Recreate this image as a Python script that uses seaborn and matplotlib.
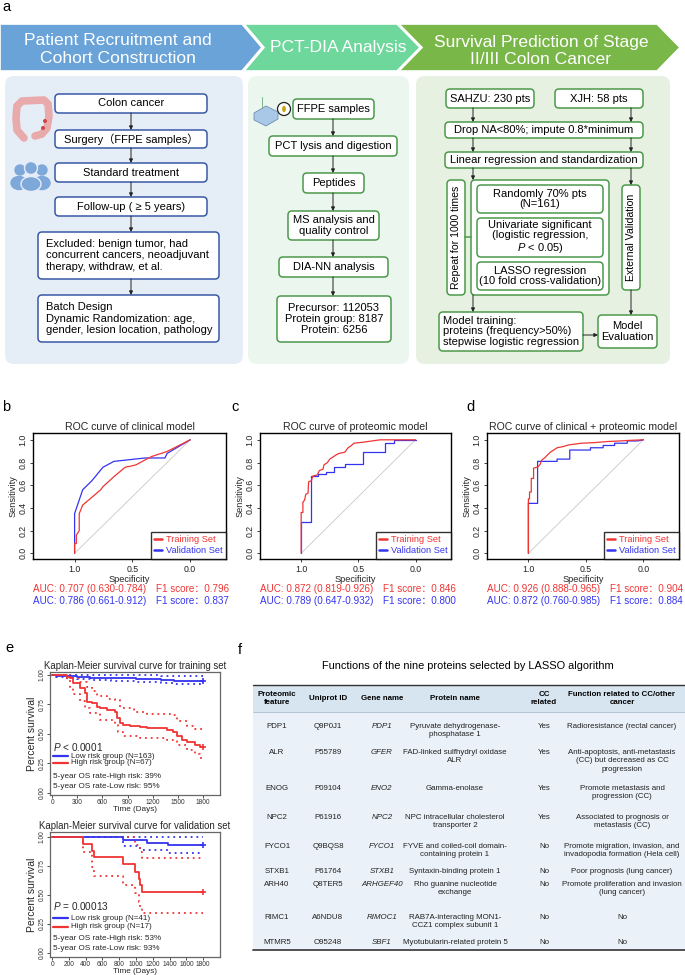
import numpy as np
import pandas as pd
import matplotlib
matplotlib.use("Agg")
import matplotlib.pyplot as plt
import seaborn as sns
from matplotlib.patches import FancyBboxPatch, Polygon, Circle, Ellipse, Rectangle
from matplotlib.lines import Line2D

# ---------------- data ----------------
banner_titles = ["Patient Recruitment and\nCohort Construction", "PCT-DIA Analysis",
                 "Survival Prediction of Stage\nII/III Colon Cancer"]
left_steps = ["Colon cancer", "Surgery\uff08FFPE samples\uff09", "Standard treatment", "Follow-up ( \u2265 5 years)",
              "Excluded: benign tumor, had\nconcurrent cancers, neoadjuvant\ntherapy, withdraw, et al.",
              "Batch Design\nDynamic Randomization: age,\ngender, lesion location, pathology"]
mid_steps = ["FFPE samples", "PCT lysis and digestion", "Peptides", "MS analysis and\nquality control",
             "DIA-NN analysis", "Precursor: 112053\nProtein group: 8187\nProtein: 6256"]
right_steps = ["SAHZU: 230 pts", "XJH: 58 pts", "Drop NA<80%; impute 0.8*minimum",
               "Linear regression and standardization", "Repeat for 1000 times",
               "Randomly 70% pts\n(N=161)", "Univariate significant\n(logistic regression,\n$P$ < 0.05)",
               "LASSO regression\n(10 fold cross-validation)", "External Validation",
               "Model training:\nproteins (frequency>50%)\nstepwise logistic regression", "Model\nEvaluation"]

roc_titles = ["ROC curve of clinical model", "ROC curve of proteomic model",
              "ROC curve of clinical + proteomic model"]
roc_b_train_spec = [1.0, 1.0, 0.985, 0.985, 0.96, 0.96, 0.93, 0.774, 0.755, 0.66, 0.563, 0.506, 0.468, 0.39, 0.333, 0.2, 0.0]
roc_b_train_sens = [0.0, 0.086, 0.086, 0.16, 0.2, 0.35, 0.425, 0.56, 0.587, 0.675, 0.758, 0.77, 0.78, 0.823, 0.853, 0.897, 1.0]
roc_b_val_spec = [1.0, 1.0, 0.93, 0.85, 0.755, 0.66, 0.39, 0.218, 0.2, 0.0]
roc_b_val_sens = [0.0, 0.35, 0.56, 0.64, 0.758, 0.81, 0.84, 0.84, 0.88, 1.0]
roc_c_train_spec = [1.0, 1.0, 0.985, 0.985, 0.97, 0.96, 0.94, 0.935, 0.91, 0.90, 0.86, 0.84, 0.81, 0.80, 0.77,
                    0.75, 0.72, 0.69, 0.67, 0.62, 0.59, 0.56, 0.54, 0.45, 0.38, 0.31, 0.0]
roc_c_train_sens = [0.0, 0.36, 0.36, 0.45, 0.47, 0.52, 0.53, 0.63, 0.64, 0.68, 0.69, 0.73, 0.74, 0.78, 0.80,
                    0.83, 0.85, 0.87, 0.88, 0.89, 0.93, 0.95, 0.97, 0.98, 0.99, 1.0, 1.0]
roc_c_val_spec = [1.0, 1.0, 0.91, 0.91, 0.85, 0.85, 0.78, 0.78, 0.71, 0.71, 0.62, 0.62, 0.46, 0.46, 0.27, 0.27,
                  0.19, 0.19, 0.0]
roc_c_val_sens = [0.0, 0.28, 0.28, 0.68, 0.68, 0.70, 0.70, 0.72, 0.72, 0.76, 0.76, 0.79, 0.79, 0.89, 0.89, 0.97,
                  0.97, 1.0, 1.0]
roc_d_train_spec = [1.0, 1.0, 0.99, 0.99, 0.975, 0.975, 0.955, 0.955, 0.92, 0.90, 0.885, 0.86, 0.84, 0.81, 0.78,
                    0.75, 0.70, 0.65, 0.54, 0.43, 0.31, 0.20, 0.12, 0.0]
roc_d_train_sens = [0.0, 0.48, 0.48, 0.54, 0.54, 0.66, 0.66, 0.75, 0.76, 0.78, 0.82, 0.84, 0.86, 0.89, 0.91,
                    0.93, 0.94, 0.955, 0.97, 0.975, 0.985, 0.99, 0.995, 1.0]
roc_d_val_spec = [1.0, 1.0, 0.92, 0.92, 0.75, 0.75, 0.64, 0.64, 0.46, 0.46, 0.35, 0.35, 0.25, 0.25, 0.14, 0.14,
                  0.05, 0.0]
roc_d_val_sens = [0.0, 0.44, 0.44, 0.81, 0.81, 0.83, 0.83, 0.91, 0.91, 0.93, 0.93, 0.95, 0.95, 0.97, 0.97, 0.99,
                  0.99, 1.0]
auc_train = ["AUC: 0.707 (0.630-0.784)", "AUC: 0.872 (0.819-0.926)", "AUC: 0.926 (0.888-0.965)"]
auc_val = ["AUC: 0.786 (0.661-0.912)", "AUC: 0.789 (0.647-0.932)", "AUC: 0.872 (0.760-0.985)"]
f1_train = ["0.796", "0.846", "0.904"]
f1_val = ["0.837", "0.800", "0.884"]

km_titles = ["Kaplan-Meier survival curve for training set", "Kaplan-Meier survival curve for validation set"]
km_tr_low_t = [0, 50, 150, 300, 450, 700, 1000, 1300, 1450, 1800]
km_tr_low_s = [1.0, 0.994, 0.988, 0.982, 0.976, 0.97, 0.963, 0.956, 0.95, 0.95]
km_tr_low_up = [1.0, 1.0, 1.0, 1.0, 1.0, 1.0, 0.997, 0.993, 0.99, 0.99]
km_tr_low_lo = [1.0, 0.982, 0.972, 0.963, 0.955, 0.948, 0.94, 0.93, 0.922, 0.922]
km_tr_high_t = [0, 175, 215, 254, 334, 394, 413, 473, 533, 572, 652, 751, 779, 811, 850, 930, 1049, 1129,
                1367, 1446, 1486, 1546, 1605, 1705, 1764, 1800]
km_tr_high_s = [1.0, 0.985, 0.97, 0.93, 0.886, 0.845, 0.774, 0.76, 0.732, 0.718, 0.70, 0.69, 0.632, 0.59, 0.576,
                0.568, 0.557, 0.548, 0.534, 0.52, 0.48, 0.45, 0.435, 0.407, 0.39, 0.39]
km_tr_high_up_t = [0, 175, 215, 254, 334, 413, 473, 533, 652, 751, 811, 970, 1129, 1407, 1486, 1605, 1705, 1800]
km_tr_high_up_s = [1.0, 1.0, 0.99, 0.97, 0.94, 0.90, 0.86, 0.82, 0.80, 0.79, 0.72, 0.69, 0.67, 0.66, 0.61, 0.57,
                   0.54, 0.53]
km_tr_high_lo_t = [0, 175, 215, 254, 334, 394, 453, 572, 751, 790, 850, 1049, 1367, 1486, 1605, 1705, 1764, 1800]
km_tr_high_lo_s = [1.0, 0.96, 0.90, 0.84, 0.78, 0.72, 0.675, 0.62, 0.576, 0.52, 0.48, 0.465, 0.45, 0.41, 0.364,
                   0.33, 0.30, 0.29]
km_va_low_t = [0, 843, 1128, 1384, 1800]
km_va_low_s = [1.0, 0.974, 0.95, 0.93, 0.93]
km_va_low_up = [1.0, 1.0, 1.0, 1.0, 1.0]
km_va_low_lo_t = [0, 843, 1048, 1384, 1800]
km_va_low_lo_s = [1.0, 0.92, 0.89, 0.86, 0.86]
km_va_high_t = [0, 370, 475, 495, 850, 990, 1030, 1050, 1070, 1800]
km_va_high_s = [1.0, 0.941, 0.882, 0.824, 0.765, 0.70, 0.64, 0.59, 0.53, 0.53]
km_va_high_up_t = [0, 990, 1050, 1070, 1800]
km_va_high_up_s = [1.0, 0.93, 0.87, 0.82, 0.82]
km_va_high_lo_t = [0, 370, 475, 495, 850, 990, 1030, 1050, 1070, 1800]
km_va_high_lo_s = [1.0, 0.87, 0.74, 0.66, 0.585, 0.515, 0.44, 0.39, 0.345, 0.345]
km_p = ["$P$ < 0.0001", "$P$ = 0.00013"]
km_low_lab = ["Low risk group (N=163)", "Low risk group (N=41)"]
km_high_lab = ["High risk group (N=67)", "High risk group (N=17)"]
km_os_high = ["5-year OS rate-High risk: 39%", "5-year OS rate-High risk: 53%"]
km_os_low = ["5-year OS rate-Low risk: 95%", "5-year OS rate-Low risk: 93%"]
km_xticks = [[0, 300, 600, 900, 1200, 1500, 1800], [0, 200, 400, 600, 800, 1000, 1200, 1400, 1600, 1800]]

table_title = "Functions of the nine proteins selected by LASSO algorithm"
headers = ["Proteomic\nfeature", "Uniprot ID", "Gene name", "Protein name", "CC\nrelated",
           "Function related to CC/other\ncancer"]
features = ["PDP1", "ALR", "ENOG", "NPC2", "FYCO1", "STXB1", "ARH40", "RIMC1", "MTMR5"]
uniprot = ["Q9P0J1", "P55789", "P09104", "P61916", "Q9BQS8", "P61764", "Q8TER5", "A6NDU8", "O95248"]
genes = ["PDP1", "GFER", "ENO2", "NPC2", "FYCO1", "STXB1", "ARHGEF40", "RIMOC1", "SBF1"]
protein_names = ["Pyruvate dehydrogenase-\nphosphatase 1", "FAD-linked sulfhydryl oxidase\nALR", "Gamma-enolase",
                 "NPC intracellular cholesterol\ntransporter 2", "FYVE and coiled-coil domain-\ncontaining protein 1",
                 "Syntaxin-binding protein 1", "Rho guanine nucleotide\nexchange",
                 "RAB7A-interacting MON1-\nCCZ1 complex subunit 1", "Myotubularin-related protein 5"]
cc_related = ["Yes", "Yes", "Yes", "Yes", "No", "No", "No", "No", "No"]
functions = ["Radioresistance (rectal cancer)", "Anti-apoptosis, anti-metastasis\n(CC) but decreased as CC\nprogression",
             "Promote metastasis and\nprogression (CC)", "Associated to prognosis or\nmetastasis (CC)",
             "Promote migration, invasion, and\ninvadopodia formation (Hela cell)", "Poor prognosis (lung cancer)",
             "Promote proliferation and invasion\n(lung cancer)", "No", "No"]

# ---------------- style ----------------
sns.set_theme(style="white")
FAM = ["Liberation Sans", "Noto Sans CJK SC", "DejaVu Sans"]
plt.rcParams["font.family"] = FAM
plt.rcParams["mathtext.fontset"] = "custom"
plt.rcParams["mathtext.it"] = "Liberation Sans:italic"
plt.rcParams["mathtext.rm"] = "Liberation Sans"
RED = "#F03434"
BLUE = "#3434F0"

W, H = 685, 975
fig = plt.figure(figsize=(W / 100, H / 100), dpi=100)
fig.patch.set_facecolor("white")


def rect(x, y, w, h):
    return [x / W, 1 - (y + h) / H, w / W, h / H]


ov = fig.add_axes([0, 0, 1, 1])
ov.set_xlim(0, W)
ov.set_ylim(H, 0)
ov.axis("off")


def rbox(x0, y0, x1, y1, ec, fc="white", lw=1.0, r=3.0, z=2):
    ov.add_patch(FancyBboxPatch((x0, y0), x1 - x0, y1 - y0, boxstyle=f"round,pad=0,rounding_size={r}",
                                ec=ec, fc=fc, lw=lw, zorder=z))


def txt(x, y, s, size, color="black", ha="center", va="center", **kw):
    ov.text(x, y, s, fontsize=size, color=color, ha=ha, va=va, family=FAM, zorder=5, **kw)


def arrow(x0, y0, x1, y1):
    ov.annotate("", xy=(x1, y1), xytext=(x0, y0),
                arrowprops=dict(arrowstyle="-|>", lw=0.7, color="#222222", mutation_scale=5.5,
                                shrinkA=0, shrinkB=0), zorder=4)


# panel letters
for lab, (x, y) in zip("abcdef", [(2, 7), (2, 407), (231, 407), (466, 407), (5, 648), (238, 650)]):
    txt(x, y, lab, 10.5, ha="left")

# ---------------- panel a ----------------
c_blue, c_lg, c_dg = "#69A3D8", "#6DD79C", "#79B749"
ov.add_patch(Polygon([(0, 24), (242, 24), (262, 47.5), (242, 71), (0, 71)], closed=True, fc=c_blue, ec="white", lw=1.2, zorder=3))
ov.add_patch(Polygon([(244, 24), (397, 24), (420, 47.5), (397, 71), (244, 71), (264, 47.5)], closed=True, fc=c_lg, ec="white", lw=1.2, zorder=3))
ov.add_patch(Polygon([(399, 24), (657, 24), (680, 47.5), (657, 71), (399, 71), (422, 47.5)], closed=True, fc=c_dg, ec="white", lw=1.2, zorder=3))
for (x, y), s in zip([(118, 49.5), (338, 47.5), (541, 51)], banner_titles):
    txt(x, y, s, 12.6, color="white", linespacing=1.22)

rbox(5, 76, 243, 364, ec="none", fc="#E5EEF7", r=9, z=1)
rbox(248, 76, 409, 364, ec="none", fc="#EAF6EE", r=9, z=1)
rbox(416, 76, 670, 364, ec="none", fc="#E7F1E1", r=9, z=1)

eb, eg = "#3858A6", "#4C994A"
fs_a = 8.0
Lb = [(55, 94, 207, 113), (55, 130, 207, 148), (55, 163, 207, 182), (55, 197, 207, 216),
      (38, 232, 219, 279), (38, 295, 219, 342)]
for i, (b, s) in enumerate(zip(Lb, left_steps)):
    rbox(*b, ec=eb, lw=1.1, r=4)
    if i < 4:
        txt((b[0] + b[2]) / 2, (b[1] + b[3]) / 2, s, fs_a)
    else:
        txt(b[0] + 8, (b[1] + b[3]) / 2, s, fs_a, ha="left", linespacing=1.2)
for i in range(len(Lb) - 1):
    arrow(131, Lb[i][3], 131, Lb[i + 1][1])

Mb = [(293, 99, 374, 119), (269, 136, 397, 156), (303, 173, 364, 193), (288, 211, 379, 240),
      (279, 257, 388, 277), (277, 296, 391, 342)]
for b, s in zip(Mb, mid_steps):
    rbox(*b, ec=eg, lw=1.1, r=4)
    txt((b[0] + b[2]) / 2, (b[1] + b[3]) / 2, s, fs_a, linespacing=1.12)
for i in range(len(Mb) - 1):
    arrow(333, Mb[i][3], 333, Mb[i + 1][1])

Rb = [(446, 89, 534, 108), (555, 89, 643, 108), (445, 122, 643, 138), (445, 152, 643, 168),
      (447, 180, 465, 295), (477, 185, 603, 213), (477, 218, 603, 257), (477, 262, 603, 290),
      (622, 185, 640, 290), (439, 312, 583, 351), (598, 315, 657, 348)]
rbox(471, 180, 609, 295, ec=eg, lw=1.1, r=4)
for i, (b, s) in enumerate(zip(Rb, right_steps)):
    rbox(*b, ec=eg, lw=1.1, r=4)
    cx, cy = (b[0] + b[2]) / 2, (b[1] + b[3]) / 2
    if i in (4, 8):
        txt(cx, cy, s, 7.6, rotation=90)
    elif i == 9:
        txt(b[0] + 4, cy, s, fs_a, ha="left", linespacing=1.12)
    else:
        txt(cx, cy, s, fs_a, linespacing=1.1)
arrow(473, 108, 473, 122)
arrow(473, 138, 473, 152)
arrow(473, 168, 473, 180)
arrow(631, 108, 631, 122)
arrow(631, 138, 631, 152)
arrow(631, 168, 631, 185)
arrow(473, 295, 473, 312)
arrow(631, 290, 631, 315)
arrow(583, 335, 598, 335)
ov.plot([465, 471], [237, 237], color=eg, lw=1.1, zorder=3)

# icons
ov.plot([24, 17, 16, 17, 22, 44, 48, 49, 47, 42, 35], [138, 130, 118, 106, 101, 100, 104, 116, 128, 134, 136],
        color="#E9A3A3", lw=5.5, solid_capstyle="round", alpha=0.9, zorder=3)
ov.add_patch(Circle((45, 121), 1.3, color="#D04545", zorder=4))
ov.add_patch(Circle((43, 128), 1.3, color="#D04545", zorder=4))
pc = "#7EA8DA"
ov.add_patch(Ellipse((19, 183), 16, 13, color=pc, zorder=3))
ov.add_patch(Ellipse((42, 183), 16, 13, color=pc, zorder=3))
ov.add_patch(Circle((20, 170), 5, color=pc, zorder=3))
ov.add_patch(Circle((42, 170), 5, color=pc, zorder=3))
ov.add_patch(Ellipse((31, 184), 20, 15, fc=pc, ec="#E5EEF7", lw=1.0, zorder=4))
ov.add_patch(Circle((31, 168), 6.5, fc=pc, ec="#E5EEF7", lw=1.0, zorder=4))
ov.add_patch(Polygon([(254, 113), (266, 106), (278, 112), (278, 119), (266, 126), (254, 120)], closed=True,
                     fc="#A9C7E6", ec="#6E8FB8", lw=0.6, zorder=3))
ov.plot([262, 262], [97, 108], color="#7FB08A", lw=0.7, zorder=3)
ov.add_patch(Circle((284, 109), 6.5, fc="white", ec="#222222", lw=0.9, zorder=4))
ov.add_patch(Ellipse((284, 109), 2.4, 5, color="#C8A41E", zorder=5))

# ---------------- panels b-d: ROC ----------------
roc_rects = [(33, 433, 193, 126), (260, 433, 191, 126), (487, 433, 192, 126)]
roc_sets = [(roc_b_train_spec, roc_b_train_sens, roc_b_val_spec, roc_b_val_sens),
            (roc_c_train_spec, roc_c_train_sens, roc_c_val_spec, roc_c_val_sens),
            (roc_d_train_spec, roc_d_train_sens, roc_d_val_spec, roc_d_val_sens)]
for k, (r, (ts, tse, vs, vse)) in enumerate(zip(roc_rects, roc_sets)):
    ax = fig.add_axes(rect(*r))
    ax.set_facecolor("white")
    df = pd.DataFrame({"spec": vs + ts, "sens": vse + tse,
                       "set": ["Validation Set"] * len(vs) + ["Training Set"] * len(ts)})
    ax.plot([1, 0], [0, 1], color="#C8C8C8", lw=0.6, zorder=1)
    sns.lineplot(data=df, x="spec", y="sens", hue="set", palette={"Training Set": RED, "Validation Set": BLUE},
                 sort=False, estimator=None, lw=0.9, ax=ax, legend=False, zorder=2)
    ax.set_xlim(1.36, -0.31)
    ax.set_ylim(-0.05, 1.06)
    ax.set_xticks([1.0, 0.5, 0.0])
    ax.set_xticklabels(["1.0", "0.5", "0.0"])
    ax.set_yticks([0, 0.2, 0.4, 0.6, 0.8, 1.0])
    ax.set_yticklabels(["0.0", "0.2", "0.4", "0.6", "0.8", "1.0"], rotation=90, va="center")
    ax.tick_params(length=2.5, width=0.6, labelsize=6.3, pad=1.5, left=True, bottom=True, colors="#222222")
    for sp in ax.spines.values():
        sp.set_color("black")
        sp.set_linewidth(1.0)
    ax.set_title(roc_titles[k], fontsize=7.6, pad=2.5)
    ax.set_xlabel("Specificity", fontsize=6.6, labelpad=1)
    ax.set_ylabel("Sensitivity", fontsize=6.6, labelpad=1)
    handles = [Line2D([0], [0], color=RED, lw=1.8), Line2D([0], [0], color=BLUE, lw=1.8)]
    leg = ax.legend(handles, ["Training Set", "Validation Set"], loc="lower right", frameon=True, fancybox=False,
                    edgecolor="black", borderaxespad=0, handlelength=0.8, handletextpad=0.4, borderpad=0.4,
                    labelspacing=0.2, labelcolor=[RED, BLUE], prop={"size": 6.7})
    leg.get_frame().set_linewidth(1.0)
    x0 = r[0]
    txt(x0, 589, auc_train[k], 7.1, color=RED, ha="left")
    txt(x0, 601, auc_val[k], 7.1, color=BLUE, ha="left")
    txt(x0 + 123, 589, "F1 score\uff1a" + f1_train[k], 7.1, color=RED, ha="left")
    txt(x0 + 123, 601, "F1 score\uff1a" + f1_val[k], 7.1, color=BLUE, ha="left")

# ---------------- panel e: KM ----------------
km_rects = [(50, 672, 170, 123), (50, 832, 170, 125)]
km_ylims = [(-0.017, 1.025), (-0.034, 1.043)]
km_curves = [
    [(km_tr_low_t, km_tr_low_s, BLUE, "-"), (km_tr_low_t, km_tr_low_up, BLUE, ":"),
     (km_tr_low_t, km_tr_low_lo, BLUE, ":"), (km_tr_high_t, km_tr_high_s, RED, "-"),
     (km_tr_high_up_t, km_tr_high_up_s, RED, ":"), (km_tr_high_lo_t, km_tr_high_lo_s, RED, ":")],
    [(km_va_low_t, km_va_low_s, BLUE, "-"), (km_va_low_t, km_va_low_up, BLUE, ":"),
     (km_va_low_lo_t, km_va_low_lo_s, BLUE, ":"), (km_va_high_t, km_va_high_s, RED, "-"),
     (km_va_high_up_t, km_va_high_up_s, RED, ":"), (km_va_high_lo_t, km_va_high_lo_s, RED, ":")]]
for k, r in enumerate(km_rects):
    ax = fig.add_axes(rect(*r))
    ax.set_facecolor("white")
    for tt, ss, col, ls in km_curves[k]:
        if ls == "-":
            sns.lineplot(x=tt, y=ss, color=col, lw=1.3, drawstyle="steps-post", estimator=None, ax=ax, zorder=3)
            ax.plot([tt[-1]], [ss[-1]], marker="+", ms=5, mew=1.2, color=col, zorder=4)
        else:
            sns.lineplot(x=tt, y=ss, color=col, lw=1.3, drawstyle="steps-post", estimator=None, ax=ax,
                         linestyle=(0, (1, 2.2)), zorder=2)
    ax.set_xlim(-25, 2000)
    ax.set_ylim(*km_ylims[k])
    ax.set_xticks(km_xticks[k])
    ax.set_xticklabels([str(v) for v in km_xticks[k]])
    ax.set_yticks([0, 0.25, 0.5, 0.75, 1.0])
    ax.set_yticklabels(["0.00", "0.25", "0.50", "0.75", "1.00"], rotation=90, va="center")
    ax.tick_params(length=2, width=0.6, labelsize=4.8, pad=1.0, left=True, bottom=True, colors="#333333")
    for sp in ax.spines.values():
        sp.set_color("#666666")
        sp.set_linewidth(0.9)
    ax.set_title(km_titles[k], fontsize=6.95, pad=2.5)
    ax.set_xlabel("Time (Days)", fontsize=5.9, labelpad=0)
    ax.set_ylabel("Percent survival", fontsize=7.5, labelpad=1)

    def af(x, y, r=r):
        return ((x - r[0]) / r[2], (r[1] + r[3] - y) / r[3])

    base = [747, 756, 763, 777, 786] if k == 0 else [906, 918, 927, 938, 948]
    ax.text(*af(53, base[0]), km_p[k], transform=ax.transAxes, fontsize=7.2, ha="left", va="center")
    for yy, col, lab in [(base[1], BLUE, km_low_lab[k]), (base[2], RED, km_high_lab[k])]:
        p0, p1 = af(53, yy), af(68, yy)
        ax.plot([p0[0], p1[0]], [p0[1], p1[1]], transform=ax.transAxes, color=col, lw=1.6)
        ax.text(*af(71, yy), lab, transform=ax.transAxes, fontsize=5.8, ha="left", va="center")
    ax.text(*af(53, base[3]), km_os_high[k], transform=ax.transAxes, fontsize=5.85, ha="left", va="center")
    ax.text(*af(53, base[4]), km_os_low[k], transform=ax.transAxes, fontsize=5.85, ha="left", va="center")

# ---------------- panel f: table ----------------
txt(468, 666, table_title, 7.9)
tx0, tx1 = 253, 685
ov.add_patch(Rectangle((tx0, 712), tx1 - tx0, 950 - 712, fc="#EAF1F8", ec="none", zorder=1))
ov.add_patch(Rectangle((tx0, 685), tx1 - tx0, 712 - 685, fc="#D7E5F1", ec="none", zorder=1))
ov.plot([tx0, tx1], [685, 685], color="#333333", lw=1.0, zorder=3)
ov.plot([tx0, tx1], [712, 712], color="#9FB3C6", lw=0.5, zorder=3)
ov.plot([tx0, tx1], [950, 950], color="#444444", lw=1.3, zorder=3)
col_x = [277, 328, 382, 455, 544, 622]
for cx, h in zip(col_x, headers):
    txt(cx, 698.5, h, 5.7, fontweight="bold", linespacing=1.2)
row_y = [727, 753, 789, 818, 847, 872, 885, 918, 943]
columns = [features, uniprot, genes, protein_names, cc_related, functions]
for ci, (cx, col) in enumerate(zip(col_x, columns)):
    for ry, s in zip(row_y, col):
        style = "italic" if ci == 2 else "normal"
        txt(cx, ry - 4.4, s, 5.7, va="top", linespacing=1.3, fontstyle=style, color="#222222")

fig.savefig("out.png", dpi=100, facecolor="white")
